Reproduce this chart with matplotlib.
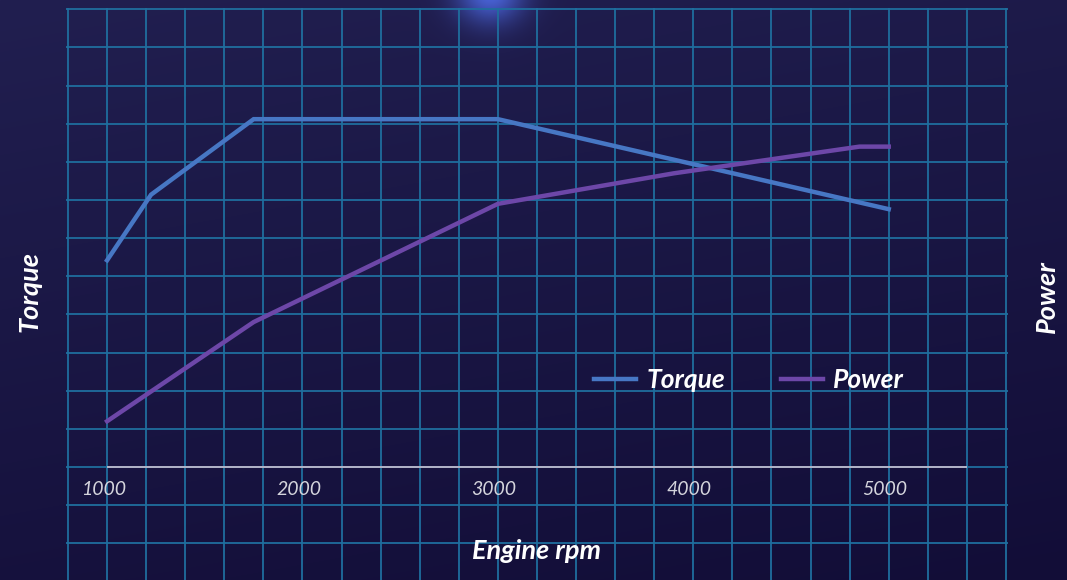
import numpy as np
import matplotlib
matplotlib.use("Agg")
import matplotlib.pyplot as plt

# engine curves
rpm_torque = [1000, 1225, 1750, 3000, 5000]
torque_nm = [271, 357, 456, 456, 338]
rpm_power = [1000, 1750, 3000, 3900, 4850, 5000]
power_kw = [12, 38, 69, 77, 84, 84]
tick_rpm = [1000, 2000, 3000, 4000, 5000]
tick_labels = ["1000", "2000", "3000", "4000", "5000"]

W, H = 1067, 580
plt.rcParams['font.family'] = ['Lato', 'DejaVu Sans']

fig = plt.figure(figsize=(W / 100, H / 100), dpi=100)

# background: dark navy gradient with a small blue glow at the top
bg = fig.add_axes([0, 0, 1, 1])
yy, xx = np.mgrid[0:H, 0:W]
t = (yy / H) * 0.75 + (xx / W) * 0.25
top = np.array([0x21, 0x1f, 0x50]) / 255
bot = np.array([0x12, 0x0d, 0x37]) / 255
img = top[None, None, :] * (1 - t[..., None]) + bot[None, None, :] * t[..., None]
d2 = ((xx - 490) ** 2 + ((yy + 8) * 1.1) ** 2)
glow = np.exp(-d2 / (2 * 24.0 ** 2))
glow_col = np.array([0x50, 0x70, 0xf0]) / 255
img = img * (1 - glow[..., None] * 0.85) + glow_col[None, None, :] * glow[..., None] * 0.85
bg.imshow(img, aspect='auto', extent=(0, W, H, 0))
bg.axis('off')

# main axes, aligned to the pixel grid of the reference
pxr = (1006 - 68) / 4800.0
pxt = 38.14 / 50.0
left_px, right_px, top_px = 66, 1008, 8
x0 = 800 - (68 - left_px) / pxr
x1 = 5600 + (right_px - 1006) / pxr
ytop = (467 - top_px) / pxt
ybot = -(H - 467) / pxt

ax = fig.add_axes([left_px / W, 0, (right_px - left_px) / W, (H - top_px) / H])
ax.set_facecolor('none')
ax.set_xlim(x0, x1)
ax.set_ylim(ybot, ytop)
ax.set_xticks(np.arange(800, 5601, 200))
ax.set_yticks(np.arange(-100, 601, 50))
ax.grid(True, color='#1f6e9e', lw=1.3)
ax.tick_params(length=0, labelbottom=False, labelleft=False)
for s in ax.spines.values():
    s.set_visible(False)
ax.set_axisbelow(True)

ax.hlines(0, 1000, 5400, color='#b4b4c8', lw=1.4, zorder=2)

for r, lab in zip(tick_rpm, tick_labels):
    ax.text(r - 20, -30, lab, ha='center', va='center', fontsize=14,
            style='italic', color='#d4d4dc')

ax2 = ax.twinx()
ax2.set_ylim(ybot / 5, ytop / 5)
ax2.axis('off')

l1, = ax.plot(rpm_torque, torque_nm, color='#4777c4', lw=3.2, label='Torque',
              solid_joinstyle='miter', zorder=3)
l2, = ax2.plot(rpm_power, power_kw, color='#6d47a8', lw=3.2, label='Power',
               solid_joinstyle='miter', zorder=3)

leg = ax2.legend(handles=[l1, l2], ncol=2, frameon=False, loc='center',
                 bbox_to_anchor=(749 / W, 1 - 380 / H), bbox_transform=fig.transFigure,
                 handlelength=1.6, handletextpad=0.4, columnspacing=2.1,
                 prop={'size': 19, 'weight': 'bold', 'style': 'italic'})
for txt in leg.get_texts():
    txt.set_color('white')

fig.text(537 / W, 1 - 551 / H, 'Engine rpm', ha='center', va='center', fontsize=19.5,
         fontweight='bold', style='italic', color='white')
fig.text(30 / W, 1 - 292 / H, 'Torque', ha='center', va='center', rotation=90,
         fontsize=19.5, fontweight='bold', style='italic', color='white')
fig.text(1047 / W, 1 - 297 / H, 'Power', ha='center', va='center', rotation=90,
         fontsize=19.5, fontweight='bold', style='italic', color='white')

fig.savefig('out.png', dpi=100)
